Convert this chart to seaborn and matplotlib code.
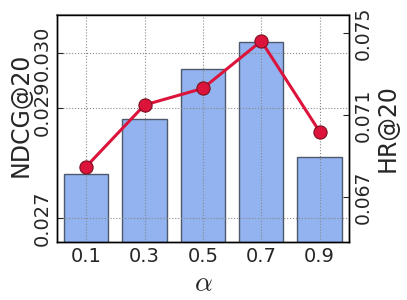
import matplotlib
matplotlib.use("Agg")
from matplotlib import pyplot as plt
import pandas as pd
import seaborn as sns

# data
alphas = ["0.1", "0.3", "0.5", "0.7", "0.9"]
ndcg = [0.02780, 0.02880, 0.02970, 0.03019, 0.02810]
hr = [0.06848, 0.07149, 0.07230, 0.07461, 0.07019]
ndcg_ticks = [0.027, 0.029, 0.030]
hr_ticks = [0.067, 0.071, 0.075]

df = pd.DataFrame({"alpha": alphas, "NDCG": ndcg, "HR": hr})

sns.set_style("white")
plt.rcParams["font.family"] = ["DejaVu Sans"]
plt.rcParams["mathtext.fontset"] = "cm"

fig = plt.figure(figsize=(4.07, 3.0), dpi=100)
ax1 = fig.add_axes([0.14, 0.193, 0.717, 0.757])

sns.barplot(data=df, x="alpha", y="NDCG", color="#92B3EF", saturation=1,
            width=0.76, edgecolor="#4d5a6e", linewidth=1.0, ax=ax1)
ax1.set_ylim(0.02656, 0.03069)
ax1.set_xlim(-0.5, 4.5)
ax1.set_yticks(ndcg_ticks)
ax1.set_yticklabels(["0.027", "0.029", "0.030"], rotation=90, va="center")
ax1.tick_params(axis="both", direction="in", labelsize=14, length=4)
ax1.grid(True, color="#888888", linestyle=":", linewidth=0.8)
ax1.set_axisbelow(False)
ax1.set_ylabel("NDCG@20", fontsize=17)
ax1.yaxis.set_label_coords(-0.085, 0.56)
ax1.set_xlabel(r"$\alpha$", fontsize=20, labelpad=2)

ax2 = ax1.twinx()
sns.lineplot(data=df, x="alpha", y="HR", color="#DC143C", linewidth=2.2,
             marker="o", markersize=9.5, markeredgecolor="#7a1020",
             markeredgewidth=0.8, ax=ax2)
ax2.set_ylim(0.0648, 0.07588)
ax2.set_yticks(hr_ticks)
ax2.set_yticklabels(["0.067", "0.071", "0.075"], rotation=90, va="center")
ax2.tick_params(axis="y", direction="in", labelsize=13.5, length=4)
ax2.set_ylabel("HR@20", fontsize=17, labelpad=2)
ax2.grid(False)

for ax in (ax1, ax2):
    for s in ax.spines.values():
        s.set_color("black")
        s.set_linewidth(1.0)
ax1.spines["top"].set_color("#888888")
ax1.spines["top"].set_linewidth(1.5)

fig.savefig("out.png", dpi=100)
